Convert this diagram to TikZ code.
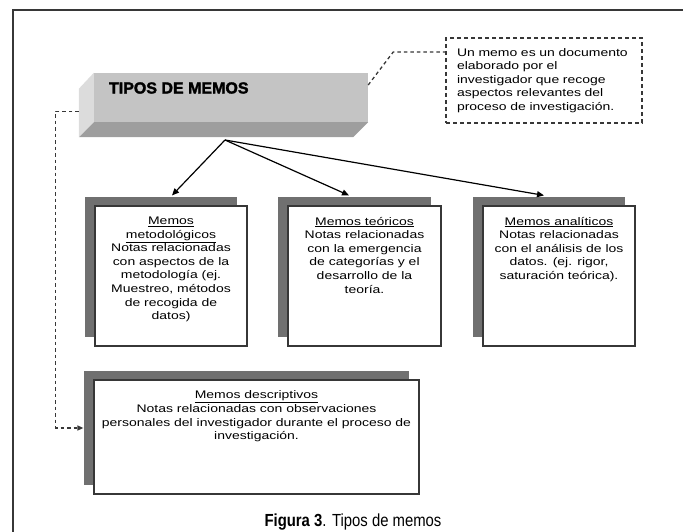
\documentclass[tikz,border=0pt]{standalone}
\usepackage{fontspec}
\setmainfont{Liberation Sans}
\newfontfamily\fuenteCaja[FakeStretch=1.27]{Liberation Sans}
\newfontfamily\fuenteTitulo[BoldFeatures={FakeBold=2}]{Liberation Sans}
\newfontfamily\fuentePie[FakeStretch=0.85]{Liberation Sans}
\usepackage{xcolor}
\usepackage{tikz}
\usetikzlibrary{arrows.meta,calc,shadows}
\definecolor{GrisSombra}{RGB}{112,112,112}
\definecolor{GrisBorde}{RGB}{55,55,55}
\definecolor{GrisFrente}{RGB}{196,196,196}
\definecolor{GrisLado}{RGB}{220,220,220}
\definecolor{GrisBase}{RGB}{158,158,158}
\newcommand{\textoMemo}[3]{\parbox[c][#1][t]{#2}{\centering #3}}

\begin{document}
\begin{tikzpicture}[x=1pt,y=-1pt,>={Triangle[length=7pt,width=6pt]},
  memo/.style={draw=GrisBorde,line width=1.2pt,fill=white,inner xsep=3pt,inner ysep=11pt,
    font=\fuenteCaja\fontsize{11}{13.6}\selectfont,
    general shadow={fill=GrisSombra,shadow xshift=-10pt,shadow yshift=9pt}},
  nota/.style={draw=GrisBorde,line width=1.3pt,dash pattern=on 4pt off 3pt,align=left,
    text width=174pt,inner xsep=11pt,minimum height=85pt,
    font=\fuenteCaja\fontsize{11}{13.6}\selectfont},
  flecha/.style={line width=1.2pt,black},
  enlace/.style={line width=1.3pt,GrisBorde,dash pattern=on 3.5pt off 3pt},
  marco/.style={line width=1.5pt,GrisBorde}]
  \useasboundingbox (0,0) rectangle (683,532);
  \draw[marco] (13,532) -- (13,10) -- (683,10);

  \node[fill=GrisFrente,inner sep=0pt,minimum width=274pt,minimum height=49pt] (tipos) at (231,97.5) {};
  \fill[GrisLado] (tipos.north west) -- ++(-15,16) -- ++(0,48) -- (tipos.south west) -- cycle;
  \fill[GrisBase] (tipos.south west) -- (tipos.south east) -- ++(-15,15) -- ($(tipos.south west)+(-15,15)$) -- cycle;
  \node[anchor=west,inner sep=0pt,font=\fuenteTitulo\bfseries\fontsize{16}{16}\selectfont] (rotulo)
    at ([xshift=15pt,yshift=9.5pt]tipos.west) {TIPOS DE MEMOS};

  \node[nota] (nota) at (544,80.5) {Un memo es un documento\\elaborado por el\\investigador que recoge\\aspectos relevantes del\\proceso de investigación.};

  \node[memo] (meto) at (171,276) {\textoMemo{118pt}{146pt}{\underline{Memos}\\\underline{metodológicos}\\Notas relacionadas\\con aspectos de la\\metodología (ej.\\Muestreo, métodos\\de recogida de\\datos)}};
  \node[memo] (teo) at (364.5,276) {\textoMemo{118pt}{147pt}{\underline{Memos teóricos}\\Notas relacionadas\\con la emergencia\\de categorías y el\\desarrollo de la\\teoría.}};
  \node[memo] (ana) at (559,276) {\textoMemo{118pt}{146pt}{\underline{Memos analíticos}\\Notas relacionadas\\con el análisis de los\\datos. (ej. rigor,\\saturación teórica).}};
  \node[memo] (desc) at (256.5,437) {\textoMemo{92pt}{319pt}{\underline{Memos descriptivos}\\Notas relacionadas con observaciones\\personales del investigador durante el proceso de\\investigación.}};

  \coordinate (raiz) at (225,140);
  \draw[->,flecha] (raiz) -- ([xshift=1pt,yshift=10pt]meto.north);
  \draw[->,flecha] (raiz) -- ([xshift=-15.5pt,yshift=10pt]teo.north);
  \draw[->,flecha] (raiz) -- ([xshift=-15pt,yshift=10pt]ana.north);

  \draw[enlace] ([yshift=12.5pt]tipos.east) -- ++(25,-33) -- ([yshift=28.5pt]nota.west);
  \draw[enlace,-{Triangle[length=6pt,width=5pt]}] ($(tipos.south west)+(-15,-11)$) -- ++(-23,0) |- ([xshift=-10pt,yshift=9pt]desc.west);

  \node[anchor=base,font=\fuentePie\fontsize{17.5}{20}\selectfont] (pie) at (353,526.5) {\textbf{Figura 3}. Tipos de memos};
\end{tikzpicture}
\end{document}
